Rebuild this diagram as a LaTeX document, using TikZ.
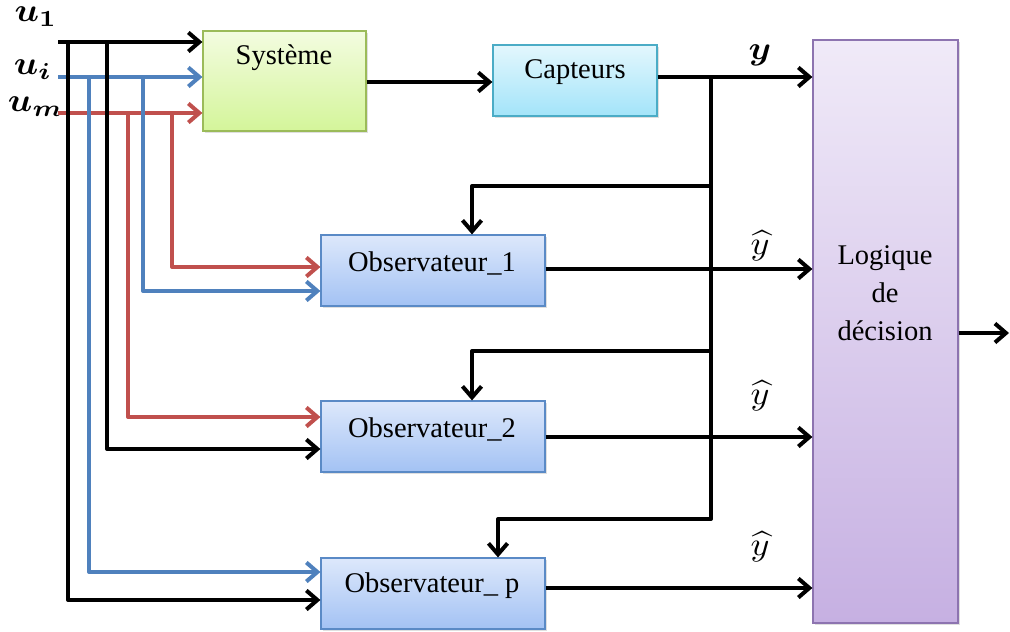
\documentclass[tikz,border=0pt]{standalone}
\usepackage{fontspec}
\setmainfont{Liberation Serif}
\usepackage{amsmath,bm,graphicx}
\usetikzlibrary{arrows.meta,shadows}

\definecolor{linblue}{HTML}{4F81BD}
\definecolor{linred}{HTML}{C0504D}
\definecolor{sysTop}{HTML}{F3FCE0}
\definecolor{sysBot}{HTML}{D4F59A}
\definecolor{sysBorder}{HTML}{9BBB59}
\definecolor{capTop}{HTML}{E3F7FD}
\definecolor{capBot}{HTML}{A3E4F9}
\definecolor{capBorder}{HTML}{4BACC6}
\definecolor{obsTop}{HTML}{DDE8FB}
\definecolor{obsBot}{HTML}{A3C2F4}
\definecolor{obsBorder}{HTML}{5A8AC6}
\definecolor{logTop}{HTML}{F0EAF8}
\definecolor{logBot}{HTML}{C6B0E2}
\definecolor{logBorder}{HTML}{8D74B0}

% large math symbols for the signal names
\newcommand{\siglab}[1]{\scalebox{3.6}[3.3]{$#1$}}

\tikzset{
  box/.style={draw, line width=1.2pt, inner sep=0pt,
    drop shadow={opacity=0.25, shadow xshift=2pt, shadow yshift=-2pt}},
  sysbox/.style={box, draw=sysBorder, top color=sysTop, bottom color=sysBot},
  capbox/.style={box, draw=capBorder, top color=capTop, bottom color=capBot},
  obsbox/.style={box, draw=obsBorder, top color=obsTop, bottom color=obsBot,
    minimum width=224pt, minimum height=71pt},
  logbox/.style={box, draw=logBorder, top color=logTop, bottom color=logBot},
  txt/.style={font=\fontsize{28.5}{38}\selectfont, inner sep=0pt},
  mlab/.style={inner sep=0pt},
  sig/.style={line width=4pt, line join=round},
  arr/.style={-{Straight Barb[length=11pt,width=19pt]}},
  blk/.style={sig, black},
  blu/.style={sig, linblue},
  rd/.style={sig, linred},
}

\begin{document}
\begin{tikzpicture}[x=1pt, y=-1pt]
\useasboundingbox (0,0) rectangle (1010,632);

% blocks
\node[sysbox, minimum width=163pt, minimum height=100pt] (sys) at (284.5,81) {};
\node[capbox, minimum width=164pt, minimum height=71pt] (cap) at (575,80.5) {};
\node[obsbox] (obs1) at (433,270.5) {};
\node[obsbox] (obs2) at (433,436.5) {};
\node[obsbox] (obsp) at (433,593.5) {};
\node[logbox, minimum width=145pt, minimum height=583pt] (logic) at (885.5,331.5) {};

% block texts
\node[txt] (tsys) at (284,58) {Système};
\node[txt] (tcap) at (575,72) {Capteurs};
\node[txt] (tobs1) at (432,263) {Observateur\_1};
\node[txt] (tobs2) at (432,429) {Observateur\_2};
\node[txt] (tobsp) at (432,586) {Observateur\_ p};
\node[txt, align=center] (tlog) at (885,293) {Logique\\de\\décision};

% input signals
\node[mlab] (lu1) at (36,17) {\siglab{\bm{u_1}}};
\node[mlab] (lui) at (33,70) {\siglab{\bm{u_i}}};
\node[mlab] (lum) at (36,107) {\siglab{\bm{u_m}}};
\coordinate (in1) at (58,42);
\coordinate (ini) at (58,77);
\coordinate (inm) at (58,113);
\draw[blk,arr] (in1) -- (sys.west |- in1);
\draw[blu,arr] (ini) -- (sys.west |- ini);
\draw[rd,arr]  (inm) -- (sys.west |- inm);

% taps feeding the observers
\coordinate (ta) at (68,42);
\coordinate (tb) at (89,77);
\coordinate (tc) at (107,42);
\coordinate (td) at (128,113);
\coordinate (te) at (143,77);
\coordinate (tf) at (172,113);
\draw[blk,arr] (ta) |- (obsp.west |- 0,600);
\draw[blu,arr] (tb) |- (obsp.west |- 0,572);
\draw[blk,arr] (tc) |- (obs2.west |- 0,449);
\draw[rd,arr]  (td) |- (obs2.west |- 0,417);
\draw[blu,arr] (te) |- (obs1.west |- 0,291);
\draw[rd,arr]  (tf) |- (obs1.west |- 0,267);

% system to sensors to decision
\draw[blk,arr] (sys.east |- 0,82) -- (cap.west |- 0,82);
\draw[blk,arr] (cap.east |- 0,77) -- (logic.west |- 0,77);
\node[mlab] (ly) at (760,55) {\siglab{\bm{y}}};

% measured output distributed to the observers
\coordinate (j) at (711,77);
\draw[blk,arr] (j) -- (711,186) -| (obs1.north -| 472,0);
\draw[blk,arr] (j) -- (711,351) -| (obs2.north -| 472,0);
\draw[blk,arr] (j) -- (711,519) -| (obsp.north -| 498,0);

% estimated outputs
\draw[blk,arr] (obs1.east |- 0,269) -- (logic.west |- 0,269);
\draw[blk,arr] (obs2.east |- 0,437) -- (logic.west |- 0,437);
\draw[blk,arr] (obsp.east |- 0,588) -- (logic.west |- 0,588);
\node[mlab] (lh1) at (760,246) {\siglab{\widehat{y}}};
\node[mlab] (lh2) at (760,396) {\siglab{\widehat{y}}};
\node[mlab] (lh3) at (760,547) {\siglab{\widehat{y}}};

% decision output
\coordinate (out) at (1009,333);
\draw[blk,arr] (logic.east |- out) -- (out);
\end{tikzpicture}
\end{document}
